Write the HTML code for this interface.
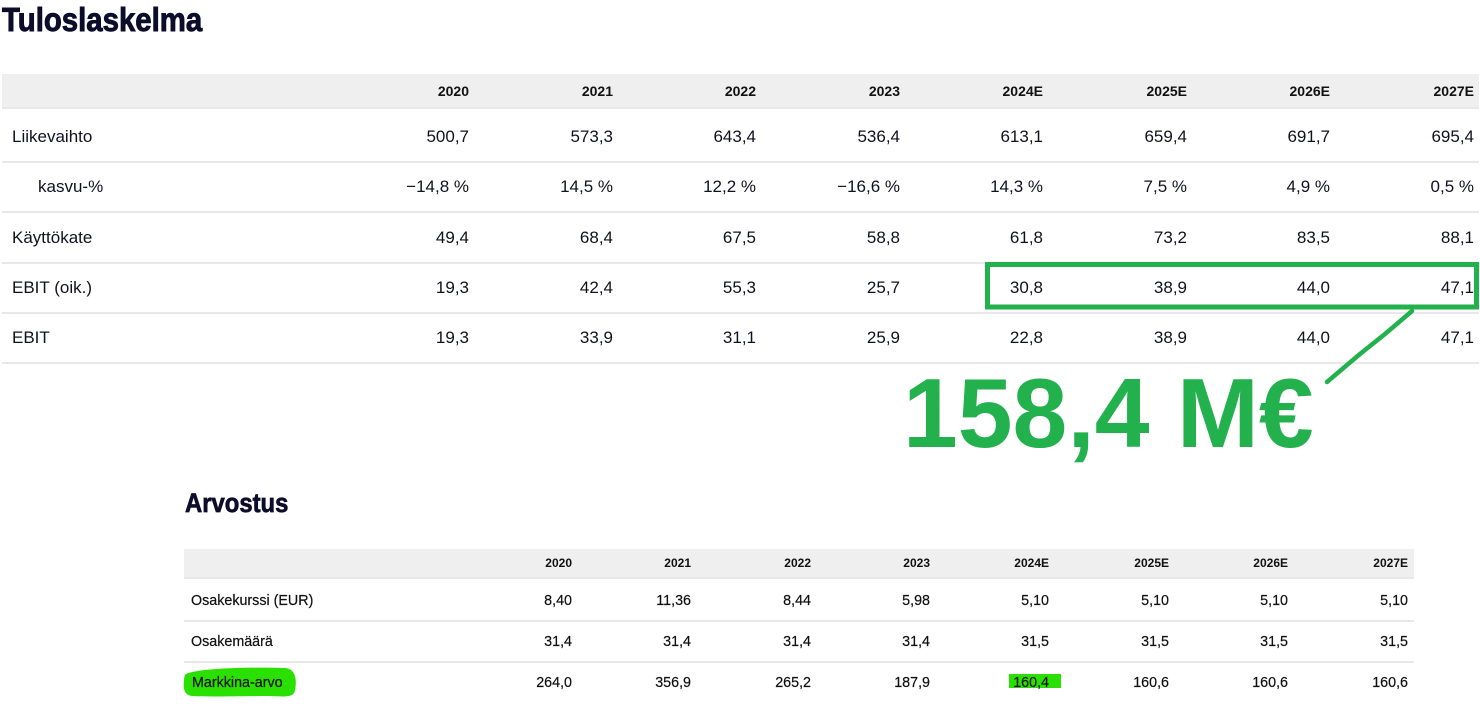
<!DOCTYPE html>
<html><head><meta charset="utf-8">
<style>
html,body{margin:0;padding:0;background:#fff;}
body{width:1480px;height:711px;position:relative;overflow:hidden;font-family:"Liberation Sans",sans-serif;color:#10111f;}
.a{position:absolute;white-space:nowrap;}
.hbg{position:absolute;background:#efefef;}
.ln{position:absolute;height:2px;background:#e8e8e8;}
.t1{font-size:17px;height:30px;line-height:30px;}
.h1{font-size:14px;font-weight:bold;height:20px;line-height:20px;color:#111;}
.t2{font-size:14.3px;height:20px;line-height:20px;color:#111;-webkit-text-stroke:0.2px #111;}
.h2{font-size:12px;font-weight:bold;height:20px;line-height:20px;color:#111;}
.r{text-align:right;}
.title{font-weight:bold;color:#0b0d2a;transform-origin:0 0;-webkit-text-stroke:0.9px #0b0d2a;}
</style></head><body>

<div class="a title" style="left:2px;top:3px;font-size:33px;line-height:33px;transform:scaleX(0.89);">Tuloslaskelma</div>

<!-- top table -->
<div class="hbg" style="left:2px;top:74px;width:1477px;height:34px;"></div>
<div class="ln" style="left:2px;top:107px;width:1477px;"></div>
<div class="ln" style="left:2px;top:161px;width:1477px;"></div>
<div class="ln" style="left:2px;top:211px;width:1477px;"></div>
<div class="ln" style="left:2px;top:262px;width:1477px;"></div>
<div class="ln" style="left:2px;top:312px;width:1477px;"></div>
<div class="ln" style="left:2px;top:362px;width:1477px;"></div>

<div class="a h1 r" style="right:1011px;top:81px;">2020</div>
<div class="a h1 r" style="right:867px;top:81px;">2021</div>
<div class="a h1 r" style="right:724px;top:81px;">2022</div>
<div class="a h1 r" style="right:580px;top:81px;">2023</div>
<div class="a h1 r" style="right:437px;top:81px;">2024E</div>
<div class="a h1 r" style="right:293px;top:81px;">2025E</div>
<div class="a h1 r" style="right:150px;top:81px;">2026E</div>
<div class="a h1 r" style="right:6px;top:81px;">2027E</div>

<div class="a t1" style="left:12px;top:122px;">Liikevaihto</div>
<div class="a t1 r" style="right:1011px;top:122px;">500,7</div>
<div class="a t1 r" style="right:867px;top:122px;">573,3</div>
<div class="a t1 r" style="right:724px;top:122px;">643,4</div>
<div class="a t1 r" style="right:580px;top:122px;">536,4</div>
<div class="a t1 r" style="right:437px;top:122px;">613,1</div>
<div class="a t1 r" style="right:293px;top:122px;">659,4</div>
<div class="a t1 r" style="right:150px;top:122px;">691,7</div>
<div class="a t1 r" style="right:6px;top:122px;">695,4</div>

<div class="a t1" style="left:38px;top:172px;">kasvu-%</div>
<div class="a t1 r" style="right:1011px;top:172px;">−14,8 %</div>
<div class="a t1 r" style="right:867px;top:172px;">14,5 %</div>
<div class="a t1 r" style="right:724px;top:172px;">12,2 %</div>
<div class="a t1 r" style="right:580px;top:172px;">−16,6 %</div>
<div class="a t1 r" style="right:437px;top:172px;">14,3 %</div>
<div class="a t1 r" style="right:293px;top:172px;">7,5 %</div>
<div class="a t1 r" style="right:150px;top:172px;">4,9 %</div>
<div class="a t1 r" style="right:6px;top:172px;">0,5 %</div>

<div class="a t1" style="left:12px;top:223px;">Käyttökate</div>
<div class="a t1 r" style="right:1011px;top:223px;">49,4</div>
<div class="a t1 r" style="right:867px;top:223px;">68,4</div>
<div class="a t1 r" style="right:724px;top:223px;">67,5</div>
<div class="a t1 r" style="right:580px;top:223px;">58,8</div>
<div class="a t1 r" style="right:437px;top:223px;">61,8</div>
<div class="a t1 r" style="right:293px;top:223px;">73,2</div>
<div class="a t1 r" style="right:150px;top:223px;">83,5</div>
<div class="a t1 r" style="right:6px;top:223px;">88,1</div>

<div class="a t1" style="left:12px;top:273px;">EBIT (oik.)</div>
<div class="a t1 r" style="right:1011px;top:273px;">19,3</div>
<div class="a t1 r" style="right:867px;top:273px;">42,4</div>
<div class="a t1 r" style="right:724px;top:273px;">55,3</div>
<div class="a t1 r" style="right:580px;top:273px;">25,7</div>
<div class="a t1 r" style="right:437px;top:273px;">30,8</div>
<div class="a t1 r" style="right:293px;top:273px;">38,9</div>
<div class="a t1 r" style="right:150px;top:273px;">44,0</div>
<div class="a t1 r" style="right:6px;top:273px;">47,1</div>

<div class="a t1" style="left:12px;top:323px;">EBIT</div>
<div class="a t1 r" style="right:1011px;top:323px;">19,3</div>
<div class="a t1 r" style="right:867px;top:323px;">33,9</div>
<div class="a t1 r" style="right:724px;top:323px;">31,1</div>
<div class="a t1 r" style="right:580px;top:323px;">25,9</div>
<div class="a t1 r" style="right:437px;top:323px;">22,8</div>
<div class="a t1 r" style="right:293px;top:323px;">38,9</div>
<div class="a t1 r" style="right:150px;top:323px;">44,0</div>
<div class="a t1 r" style="right:6px;top:323px;">47,1</div>

<!-- green annotation -->
<svg class="a" style="left:0;top:0;" width="1480" height="711">
  <rect x="987.5" y="264.5" width="489" height="42.5" fill="none" stroke="#23b14d" stroke-width="5"/>
  <path d="M1412,311 L1385,334 L1360,354 L1327,382" fill="none" stroke="#23b14d" stroke-width="4.5" stroke-linecap="round" stroke-linejoin="round"/>
  <path d="M186,674 C200,668 250,667 285,668 C296,669 297,680 295,690 C294,697 288,697 270,696 C240,696 210,697 192,696 C184,695 183,688 184,681 C184,677 185,675 186,674 Z" fill="#2ae000"/>
  <rect x="1009" y="674" width="52" height="14" fill="#2ae000"/>
</svg>

<div class="a" style="left:903px;top:364px;font-size:98.5px;line-height:98px;height:98px;font-weight:bold;color:#23b14d;">158,4 M€</div>

<!-- second table -->
<div class="a title" style="left:185px;top:490px;font-size:26.5px;line-height:26.5px;transform:scaleX(0.9);-webkit-text-stroke:0.7px #0b0d2a;">Arvostus</div>

<div class="hbg" style="left:184px;top:549px;width:1230px;height:28px;"></div>
<div class="ln" style="left:184px;top:577px;width:1230px;"></div>
<div class="ln" style="left:184px;top:620px;width:1230px;"></div>
<div class="ln" style="left:184px;top:661px;width:1230px;"></div>

<div class="a h2 r" style="right:908px;top:553px;">2020</div>
<div class="a h2 r" style="right:789px;top:553px;">2021</div>
<div class="a h2 r" style="right:669px;top:553px;">2022</div>
<div class="a h2 r" style="right:550px;top:553px;">2023</div>
<div class="a h2 r" style="right:431px;top:553px;">2024E</div>
<div class="a h2 r" style="right:311px;top:553px;">2025E</div>
<div class="a h2 r" style="right:192px;top:553px;">2026E</div>
<div class="a h2 r" style="right:72px;top:553px;">2027E</div>

<div class="a t2" style="left:191px;top:591px;">Osakekurssi (EUR)</div>
<div class="a t2 r" style="right:908px;top:591px;">8,40</div>
<div class="a t2 r" style="right:789px;top:591px;">11,36</div>
<div class="a t2 r" style="right:669px;top:591px;">8,44</div>
<div class="a t2 r" style="right:550px;top:591px;">5,98</div>
<div class="a t2 r" style="right:431px;top:591px;">5,10</div>
<div class="a t2 r" style="right:311px;top:591px;">5,10</div>
<div class="a t2 r" style="right:192px;top:591px;">5,10</div>
<div class="a t2 r" style="right:72px;top:591px;">5,10</div>

<div class="a t2" style="left:191px;top:632px;">Osakemäärä</div>
<div class="a t2 r" style="right:908px;top:632px;">31,4</div>
<div class="a t2 r" style="right:789px;top:632px;">31,4</div>
<div class="a t2 r" style="right:669px;top:632px;">31,4</div>
<div class="a t2 r" style="right:550px;top:632px;">31,4</div>
<div class="a t2 r" style="right:431px;top:632px;">31,5</div>
<div class="a t2 r" style="right:311px;top:632px;">31,5</div>
<div class="a t2 r" style="right:192px;top:632px;">31,5</div>
<div class="a t2 r" style="right:72px;top:632px;">31,5</div>

<div class="a t2" style="left:192px;top:673px;">Markkina-arvo</div>
<div class="a t2 r" style="right:908px;top:673px;">264,0</div>
<div class="a t2 r" style="right:789px;top:673px;">356,9</div>
<div class="a t2 r" style="right:669px;top:673px;">265,2</div>
<div class="a t2 r" style="right:550px;top:673px;">187,9</div>
<div class="a t2 r" style="right:431px;top:673px;">160,4</div>
<div class="a t2 r" style="right:311px;top:673px;">160,6</div>
<div class="a t2 r" style="right:192px;top:673px;">160,6</div>
<div class="a t2 r" style="right:72px;top:673px;">160,6</div>

</body></html>
